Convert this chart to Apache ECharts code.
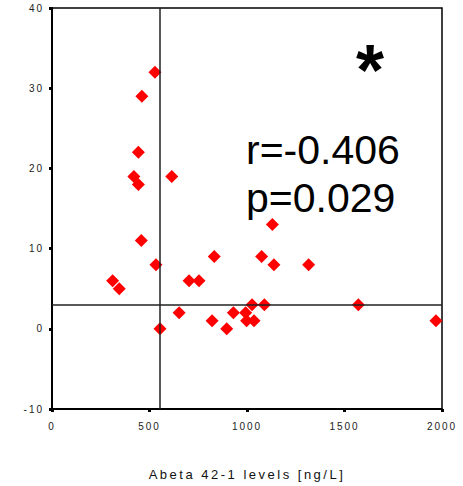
<!DOCTYPE html>
<html>
<head>
<meta charset="utf-8">
<script src="https://cdn.jsdelivr.net/npm/echarts@6/dist/echarts.min.js"></script>
<style>
html, body { margin: 0; padding: 0; background: #fff; }
#chart { width: 463px; height: 486px; }
/* spaced-out lettering like the original */
#chart text { letter-spacing: 2px; }
#chart text[style*="13px"] { letter-spacing: 2.5px; }
#chart text[style*="41px"], #chart text[style*="72px"] { letter-spacing: 0; }
</style>
</head>
<body>
<div id="chart"></div>
<script>
// Abeta 42-1 levels (x) vs. outcome (y)
var abeta = [528, 461, 443, 420, 443, 614, 458, 1130, 311, 345, 533, 832, 703, 754, 1075,
             1138, 1316, 554, 652, 821, 896, 930, 993, 998, 1036, 1026, 1089, 1571, 1969];
var scores = [32, 29, 22, 19, 18, 19, 11, 13, 6, 5, 8, 9, 6, 6, 9,
              8, 8, 0, 2, 1, 0, 2, 2, 1, 1, 3, 3, 3, 1];
// cut-off lines
var cutX = 554;
var cutY = 3;
var statLines = ['r=-0.406', 'p=0.029'];

var points = abeta.map(function (v, i) { return [v, scores[i]]; });
var font = "'Liberation Sans', Arial, sans-serif";

var chart = echarts.init(document.getElementById('chart'), null, { renderer: 'svg' });

chart.setOption({
    animation: false,
    grid: {
        left: 52, right: 21, top: 8, bottom: 72,
        show: true,
        borderColor: '#000',
        borderWidth: 1.5
    },
    xAxis: {
        type: 'value',
        min: 0, max: 2000, interval: 500,
        name: 'Abeta 42-1 levels [ng/L]',
        nameLocation: 'middle',
        nameGap: 59,
        nameTextStyle: { fontFamily: font, fontSize: 13, color: '#111' },
        axisLine: { show: true, onZero: false, lineStyle: { color: '#000', width: 2 } },
        axisTick: { show: true, length: 3, lineStyle: { color: '#000', width: 3 } },
        axisLabel: {
            fontFamily: font, fontSize: 10, color: '#222', margin: 12,
            formatter: function (v) { return String(v); }
        },
        splitLine: { show: false }
    },
    yAxis: {
        type: 'value',
        min: -10, max: 40, interval: 10,
        axisLine: { show: true, onZero: false, lineStyle: { color: '#000', width: 2 } },
        axisTick: { show: true, length: 3, lineStyle: { color: '#000', width: 3 } },
        axisLabel: { fontFamily: font, fontSize: 10, color: '#222', margin: 8 },
        splitLine: { show: false }
    },
    series: [{
        type: 'scatter',
        data: points,
        symbol: 'diamond',
        symbolSize: 13,
        itemStyle: { color: '#ff0000', opacity: 1 },
        markLine: {
            silent: true,
            symbol: 'none',
            label: { show: false },
            lineStyle: { color: '#222', width: 1.5, type: 'solid' },
            data: [{ xAxis: cutX }, { yAxis: cutY }]
        }
    }],
    graphic: [
        {
            type: 'text', x: 246, y: 150,
            style: { text: statLines[0], font: '41px ' + font, fill: '#000', verticalAlign: 'middle' }
        },
        {
            type: 'text', x: 246, y: 198,
            style: { text: statLines[1], font: '41px ' + font, fill: '#000', verticalAlign: 'middle' }
        },
        {
            type: 'text', x: 370, y: 70,
            style: { text: '*', font: 'bold 72px ' + font, fill: '#000', align: 'center', verticalAlign: 'middle' }
        }
    ]
});
</script>
</body>
</html>
